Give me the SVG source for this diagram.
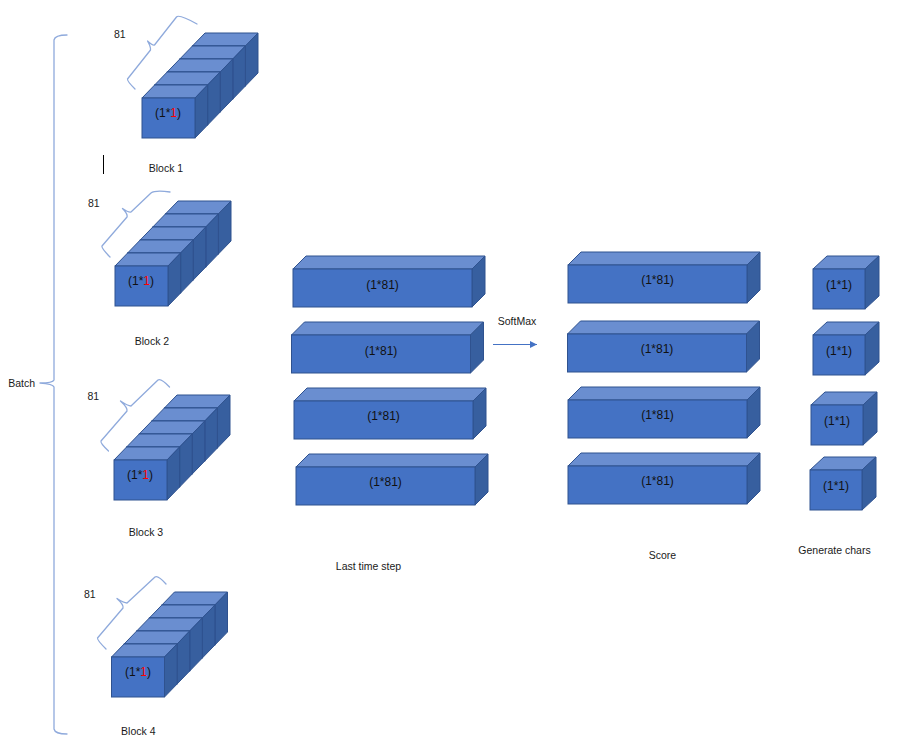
<svg xmlns="http://www.w3.org/2000/svg" xmlns:xlink="http://www.w3.org/1999/xlink" width="897" height="749" viewBox="0 0 897 749">
<style>
.front{fill:#4472C4;stroke:#2F528F;stroke-width:1}
.top{fill:#6A8ED0;stroke:#2F528F;stroke-width:1}
.side{fill:#375F9F;stroke:#2F528F;stroke-width:1}
.lbl{font-family:"Liberation Sans",Arial,sans-serif;font-size:10.5px;fill:#1a1a1a}
.box{font-family:"Liberation Sans",Arial,sans-serif;font-size:12px;fill:#111;text-anchor:middle}
.brace{fill:none;stroke:#8FAADC;stroke-width:1.3;stroke-linejoin:round;stroke-linecap:round}
</style>
<defs>
<g id="cube">
<polygon class="top" points="0,0 53,0 65.6,-13 12.6,-13"/>
<polygon class="side" points="53,0 65.6,-13 65.6,27 53,40"/>
<rect class="front" x="0" y="0" width="53" height="40"/>
</g>
<g id="chain">
<use xlink:href="#cube" x="50.4" y="-52"/>
<use xlink:href="#cube" x="37.8" y="-39"/>
<use xlink:href="#cube" x="25.2" y="-26"/>
<use xlink:href="#cube" x="12.6" y="-13"/>
<use xlink:href="#cube" x="0" y="0"/>
</g>
<g id="long">
<polygon class="top" points="0,0 179,0 192,-13 13,-13"/>
<polygon class="side" points="179,0 192,-13 192,25 179,38"/>
<rect class="front" x="0" y="0" width="179" height="38"/>
</g>
<g id="small">
<polygon class="top" points="0,0 52,0 66,-13 14,-13"/>
<polygon class="side" points="52,0 66,-13 66,27 52,40"/>
<rect class="front" x="0" y="0" width="52" height="40"/>
</g>
<marker id="arr" markerWidth="8" markerHeight="8" refX="7" refY="4" orient="auto" markerUnits="userSpaceOnUse">
<polygon points="0,0.5 7,4 0,7.5" fill="#4472C4"/>
</marker>
</defs>

<g id="batch">
<path class="brace" d="M67,35 Q55,35 54,40 L54,380 Q53,383 40,383 Q53,384 54,387 L54,729 Q55,734 67,734"/>
<text class="lbl" x="21.7" y="387" text-anchor="middle">Batch</text>
</g>

<g id="block1">
<use xlink:href="#chain" x="142" y="98"/>
<text class="box" x="168" y="117">(1*<tspan fill="#FF0000">1</tspan>)</text>
<path class="brace" d="M135,89 Q127,81 127.5,79 L150.5,50 Q151,47 147.5,41 Q153,46 154.5,45 L176.5,17 Q179,14 197,24"/>
<text class="lbl" x="114" y="37.5">81</text>
<text class="lbl" x="166" y="172" text-anchor="middle">Block 1</text>
<line x1="103.5" y1="155" x2="103.5" y2="174" stroke="#000" stroke-width="1"/>
</g>

<g id="block2">
<use xlink:href="#chain" x="115" y="266"/>
<text class="box" x="141" y="285">(1*<tspan fill="#FF0000">1</tspan>)</text>
<path class="brace" d="M110,257 Q101,248 102,246 L127,217 Q128,214 122.5,208.5 Q129,213 131,212 L151,193 Q155,190 170,192"/>
<text class="lbl" x="88" y="207">81</text>
<text class="lbl" x="152" y="345" text-anchor="middle">Block 2</text>
</g>

<g id="block3">
<use xlink:href="#chain" x="114" y="460"/>
<text class="box" x="140" y="479">(1*<tspan fill="#FF0000">1</tspan>)</text>
<path class="brace" d="M108.5,451 Q100,443 101,441 L127,411 Q128,408 120.5,401 Q128,406 131,406 L158,380 Q161,378 169.5,387"/>
<text class="lbl" x="87.5" y="400">81</text>
<text class="lbl" x="146" y="536" text-anchor="middle">Block 3</text>
</g>

<g id="block4">
<use xlink:href="#chain" x="111.5" y="657"/>
<text class="box" x="138" y="676">(1*<tspan fill="#FF0000">1</tspan>)</text>
<path class="brace" d="M106,649 Q97,640 97.5,638 L123,608 Q124,605 117,598.5 Q124,603 127,603 L155,577 Q158,575 166,584"/>
<text class="lbl" x="84" y="598">81</text>
<text class="lbl" x="138.3" y="735" text-anchor="middle">Block 4</text>
</g>

<g id="last1"><use xlink:href="#long" x="293" y="269"/><text class="box" x="382.5" y="289">(1*81)</text></g>
<g id="last2"><use xlink:href="#long" x="291.5" y="335"/><text class="box" x="381" y="355">(1*81)</text></g>
<g id="last3"><use xlink:href="#long" x="294" y="401"/><text class="box" x="383.5" y="420">(1*81)</text></g>
<g id="last4"><use xlink:href="#long" x="296" y="467"/><text class="box" x="385.5" y="486">(1*81)</text></g>
<text class="lbl" x="368.5" y="570" text-anchor="middle">Last time step</text>

<g id="score1"><use xlink:href="#long" x="568" y="265"/><text class="box" x="657.5" y="284">(1*81)</text></g>
<g id="score2"><use xlink:href="#long" x="567.5" y="334"/><text class="box" x="657" y="353">(1*81)</text></g>
<g id="score3"><use xlink:href="#long" x="568" y="400"/><text class="box" x="657.5" y="419">(1*81)</text></g>
<g id="score4"><use xlink:href="#long" x="568" y="466"/><text class="box" x="657.5" y="485">(1*81)</text></g>
<text class="lbl" x="662.5" y="559" text-anchor="middle">Score</text>

<g id="char1"><use xlink:href="#small" x="813" y="269"/><text class="box" x="839" y="289">(1*1)</text></g>
<g id="char2"><use xlink:href="#small" x="813" y="335"/><text class="box" x="839" y="355">(1*1)</text></g>
<g id="char3"><use xlink:href="#small" x="811" y="405"/><text class="box" x="837" y="425">(1*1)</text></g>
<g id="char4"><use xlink:href="#small" x="810" y="470"/><text class="box" x="836" y="490">(1*1)</text></g>
<text class="lbl" x="834.5" y="554" text-anchor="middle">Generate chars</text>

<g id="connectors">
<line x1="493" y1="344.5" x2="537" y2="344.5" stroke="#4472C4" stroke-width="1.2" marker-end="url(#arr)"/>
<text class="lbl" x="517" y="325" text-anchor="middle">SoftMax</text>
</g>
</svg>
